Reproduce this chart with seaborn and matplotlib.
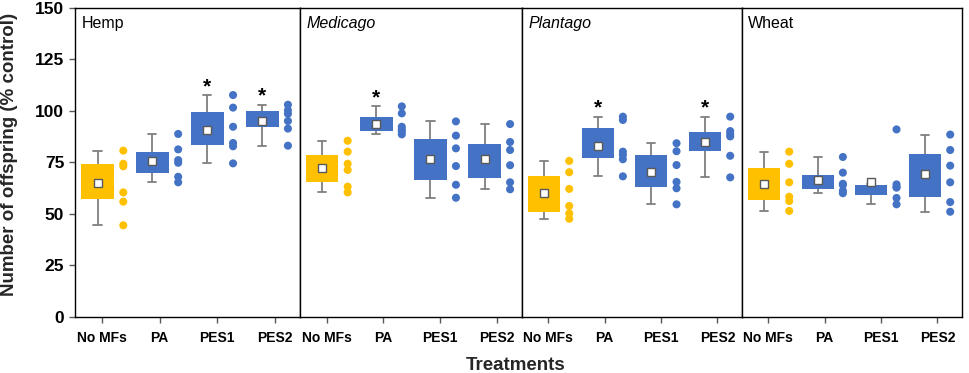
import numpy as np
import pandas as pd
import matplotlib
matplotlib.use("Agg")
import matplotlib.pyplot as plt
import seaborn as sns
from matplotlib.transforms import Affine2D

# ---------------- data ----------------
plants = ["Hemp", "Medicago", "Plantago", "Wheat"]
treatments = ["No MFs", "PA", "PES1", "PES2"]

hemp = [
    [80.7, 74.3, 73.1, 60.4, 55.9, 44.4],
    [88.8, 81.3, 76.1, 74.8, 68.0, 65.3],
    [107.7, 101.6, 92.3, 84.4, 82.8, 74.5],
    [103.0, 100.3, 98.6, 95.1, 91.4, 83.1],
]
medicago = [
    [85.5, 80.2, 74.3, 71.3, 63.2, 60.4],
    [102.2, 98.8, 92.3, 91.0, 90.0, 88.6],
    [94.9, 88.0, 81.8, 73.2, 64.1, 57.8],
    [93.6, 84.9, 81.0, 73.6, 65.3, 61.9],
]
plantago = [
    [75.7, 70.2, 62.1, 53.8, 50.2, 47.6],
    [97.2, 95.6, 80.2, 78.6, 76.5, 68.2],
    [84.3, 80.4, 73.7, 65.5, 62.4, 54.6],
    [97.2, 90.2, 88.8, 87.6, 78.2, 67.7],
]
wheat = [
    [80.2, 74.3, 65.3, 58.3, 56.2, 51.4],
    [77.6, 70.0, 64.6, 64.0, 61.2, 60.0],
    [91.0, 64.3, 63.0, 62.7, 57.7, 54.6],
    [88.5, 81.0, 73.4, 65.3, 55.7, 51.0],
]
significant = {
    "Hemp": ["PES1", "PES2"],
    "Medicago": ["PA"],
    "Plantago": ["PA", "PES2"],
    "Wheat": [],
}
italic_titles = ["Medicago", "Plantago"]

all_values = {"Hemp": hemp, "Medicago": medicago, "Plantago": plantago, "Wheat": wheat}
rows = []
for p in plants:
    for t, vals in zip(treatments, all_values[p]):
        for v in vals:
            rows.append({"plant": p, "treatment": t, "value": v})
df = pd.DataFrame(rows)

# ---------------- style ----------------
sns.set_theme(style="white")
plt.rcParams["font.family"] = ["Liberation Sans", "DejaVu Sans"]

YELLOW = "#FFC000"
BLUE = "#4472C4"
GRAY = "#7F7F7F"
palette = {"No MFs": YELLOW, "PA": BLUE, "PES1": BLUE, "PES2": BLUE}

W, H = 969, 373
fig = plt.figure(figsize=(W / 100, H / 100), dpi=100)
edges = [75, 300, 522, 742, 962]
top_px, bot_px = 8, 316.7

for k, plant in enumerate(plants):
    left = edges[k] / W
    width = (edges[k + 1] - edges[k]) / W
    ax = fig.add_axes([left, 1 - bot_px / H, width, (bot_px - top_px) / H])
    sub = df[df["plant"] == plant]

    sns.boxplot(
        data=sub, x="treatment", y="value", order=treatments,
        hue="treatment", hue_order=treatments, palette=palette, legend=False,
        saturation=1, width=0.6, whis=1.5, showfliers=False,
        linecolor=GRAY, linewidth=1.3,
        boxprops=dict(linewidth=0),
        medianprops=dict(linewidth=0),
        whiskerprops=dict(color=GRAY, linewidth=1.3),
        capprops=dict(color=GRAY, linewidth=1.3),
        capwidths=0.15,
        showmeans=True,
        meanprops=dict(marker="s", markerfacecolor="white",
                       markeredgecolor="#595959", markersize=5.5,
                       markeredgewidth=1.0),
        ax=ax,
    )
    n_before = len(ax.collections)
    sns.stripplot(
        data=sub, x="treatment", y="value", order=treatments,
        hue="treatment", hue_order=treatments, palette=palette, legend=False,
        jitter=False, size=5.8, linewidth=0, ax=ax, zorder=3,
    )
    shift = Affine2D().translate(0.47, 0)
    for coll in ax.collections[n_before:]:
        coll.set_offset_transform(shift + ax.transData)

    # significance asterisks
    for i, t in enumerate(treatments):
        if t in significant[plant]:
            top_val = max(all_values[plant][i])
            ax.text(i, top_val + 1.5, "*", ha="center", va="baseline",
                    fontsize=15, fontweight="bold", color="black")

    ax.text(0.028, 0.975, plant, transform=ax.transAxes, ha="left", va="top",
            fontsize=11.5, color="black",
            style="italic" if plant in italic_titles else "normal")

    ax.set_xlim(-0.41, 3.69)
    ax.set_ylim(0, 150)
    ax.set_xticks(np.arange(4) * 1.05 + 0.08)
    ax.set_xticklabels(treatments, fontsize=10, fontweight="bold", color="black")
    ax.set_xlabel("")
    ax.set_ylabel("")
    ax.tick_params(axis="x", bottom=True, direction="out", length=4,
                   width=1, color="#595959", pad=6)
    if k == 0:
        ax.set_yticks(np.arange(0, 151, 25))
        ax.set_yticklabels([str(v) for v in range(0, 151, 25)],
                           fontsize=12.5, fontweight="bold", color="black")
        ax.tick_params(axis="y", left=True, direction="out", length=4.3,
                       width=1, color="#595959", pad=3.5)
    else:
        ax.set_yticks([])
    for s in ax.spines.values():
        s.set_color("black")
        s.set_linewidth(1.0)
        s.set_visible(True)

fig.text(0.0098, 1 - 154 / H, "Number of offspring (% control)", rotation=90,
         ha="center", va="center", fontsize=13.5, fontweight="bold")
fig.text(516 / W, 1 - 365 / H, "Treatments", ha="center", va="center",
         fontsize=13.5, fontweight="bold")

fig.savefig("out.png", dpi=100)
